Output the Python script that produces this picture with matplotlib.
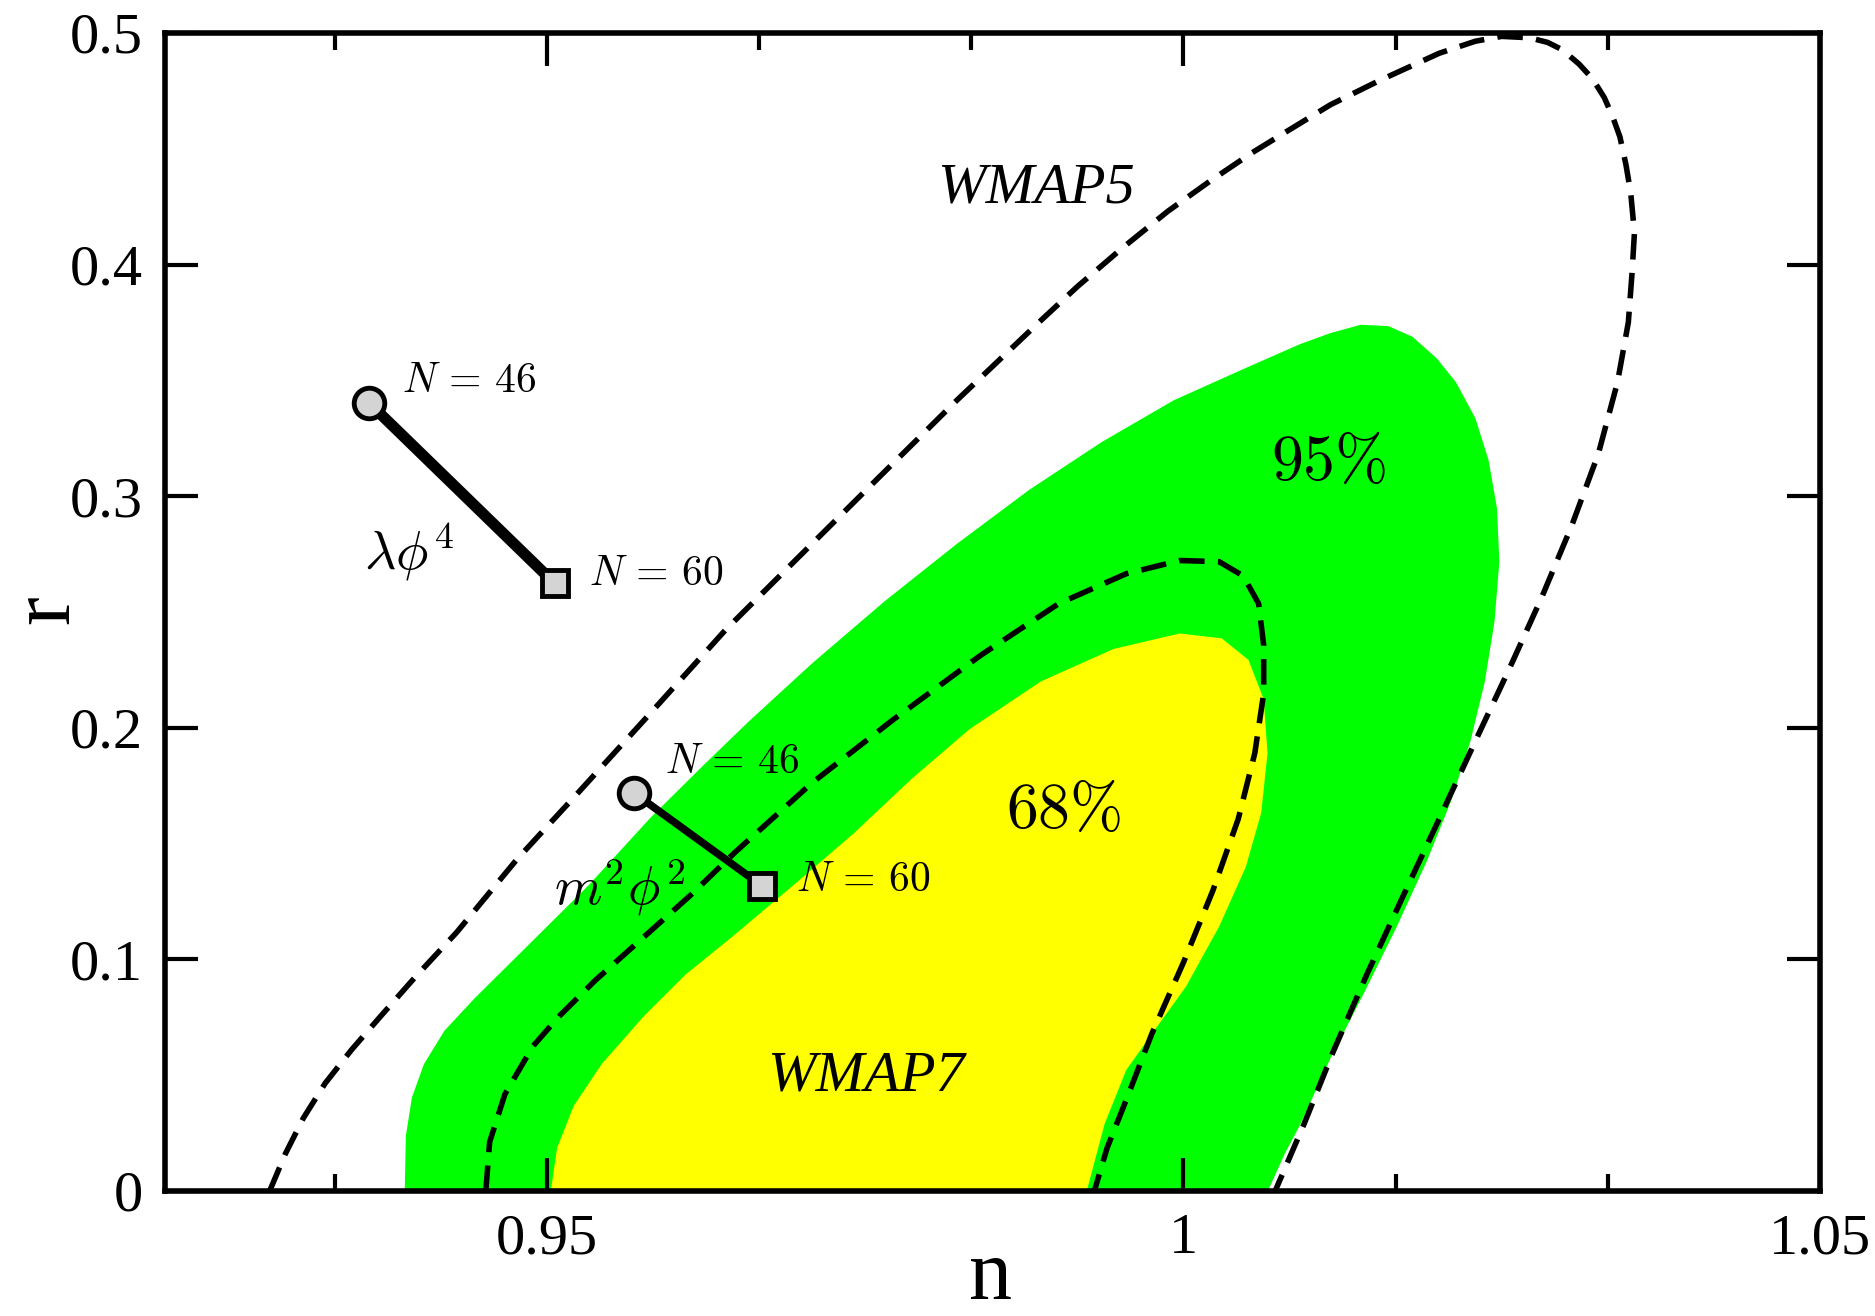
import numpy as np
import matplotlib
matplotlib.use("Agg")
import matplotlib.pyplot as plt

plt.rcParams["font.family"] = ["Liberation Serif", "DejaVu Serif"]
plt.rcParams["mathtext.fontset"] = "cm"

# Contorno WMAP7 95% (relleno verde)
w7_95_n = [0.93883, 0.93892, 0.93939, 0.94034, 0.94195, 0.94432, 0.94858, 0.95331,
           0.95814, 0.96231, 0.96581, 0.97083, 0.97652, 0.98220, 0.98788, 0.99356,
           0.99924, 1.00492, 1.00919, 1.01155, 1.01392, 1.01610, 1.01799, 1.01989,
           1.02140, 1.02292, 1.02396, 1.02462, 1.02481, 1.02443, 1.02367, 1.02254,
           1.02102, 1.01913, 1.01676, 1.01420, 1.01155, 1.00919, 1.00795, 1.00663]
w7_95_r = [0.0, 0.0238, 0.0403, 0.0548, 0.0692, 0.0832, 0.1064, 0.1322,
           0.1612, 0.1839, 0.2025, 0.2278, 0.2546, 0.2794, 0.3027, 0.3233,
           0.3414, 0.3554, 0.3657, 0.3704, 0.3740, 0.3734, 0.3688, 0.3595,
           0.3492, 0.3337, 0.3156, 0.2949, 0.2717, 0.2459, 0.2200, 0.1942,
           0.1684, 0.1426, 0.1142, 0.0857, 0.0573, 0.0289, 0.0160, 0.0]

# Contorno WMAP7 68% (relleno amarillo)
w7_68_n = [0.9503, 0.9508, 0.9521, 0.9543, 0.9576, 0.9609, 0.9645, 0.9694, 0.9741,
           0.9786, 0.9832, 0.9888, 0.9945, 0.9997, 1.0030, 1.0051, 1.0063, 1.0066,
           1.0061, 1.0049, 1.0028, 1.0002, 0.9975, 0.9955, 0.9938, 0.9924]
w7_68_r = [0.0, 0.0186, 0.0367, 0.0548, 0.0754, 0.0935, 0.1095, 0.1322, 0.1544,
           0.1777, 0.1994, 0.2200, 0.2340, 0.2407, 0.2386, 0.2293, 0.2123, 0.1890,
           0.1632, 0.1400, 0.1142, 0.0883, 0.0677, 0.0522, 0.0289, 0.0]

# Contornos WMAP5 (lineas discontinuas)
w5_95_n = [0.92822, 0.92945, 0.93087, 0.93258, 0.93466, 0.93693, 0.93958, 0.94290,
           0.94763, 0.95246, 0.95767, 0.96402, 0.96979, 0.97604, 0.98220, 0.98883,
           0.99167, 0.99517, 0.99877, 1.00208, 1.00540, 1.00833, 1.01155, 1.01534,
           1.02008, 1.02292, 1.02500, 1.02718, 1.02860, 1.02973, 1.03106, 1.03210,
           1.03305, 1.03371, 1.03428, 1.03475, 1.03513, 1.03542, 1.03523, 1.03494,
           1.03409, 1.03258, 1.03049, 1.02813, 1.02557, 1.02292, 1.02008, 1.01723,
           1.01440, 1.01174, 1.00947, 1.00720]
w5_95_r = [0.0, 0.0160, 0.0315, 0.0465, 0.0610, 0.0754, 0.0919, 0.1116,
           0.1431, 0.1720, 0.2035, 0.2422, 0.2738, 0.3079, 0.3414, 0.3760,
           0.3905, 0.4070, 0.4230, 0.4360, 0.4483, 0.4582, 0.4690, 0.4793,
           0.4912, 0.4964, 0.4985, 0.4979, 0.4959, 0.4928, 0.4866, 0.4804,
           0.4721, 0.4638, 0.4551, 0.4432, 0.4308, 0.4137, 0.3962, 0.3750,
           0.3492, 0.3182, 0.2872, 0.2562, 0.2252, 0.1942, 0.1606, 0.1271,
           0.0935, 0.0599, 0.0289, 0.0]

w5_68_n = [0.9452, 0.9455, 0.9467, 0.9489, 0.95095, 0.95379, 0.95758, 0.96136,
           0.96477, 0.9708, 0.9772, 0.9841, 0.9902, 0.9955, 0.9997, 1.0028, 1.0047,
           1.0059, 1.0063, 1.0063, 1.0056, 1.0043, 1.0023, 1.0000, 0.9975, 0.9955,
           0.9940, 0.9930]
w5_68_r = [0.0, 0.0212, 0.0418, 0.0625, 0.0754, 0.0909, 0.1095, 0.1281,
           0.1462, 0.1761, 0.2035, 0.2314, 0.2536, 0.2665, 0.2722, 0.2717, 0.2655,
           0.2536, 0.2355, 0.2149, 0.1890, 0.1606, 0.1296, 0.0987, 0.0677, 0.0393,
           0.0186, 0.0]

# Predicciones de los modelos (N = 46, N = 60)
lam_n = [0.9360, 0.9506]
lam_r = [0.3404, 0.2624]
m2_n = [0.9568, 0.9669]
m2_r = [0.1720, 0.1317]

x_ticks = [0.95, 1.0, 1.05]
x_labels = ["0.95", "1", "1.05"]
x_minor = [0.9333333, 0.9666667, 0.9833333, 1.0166667, 1.0333333]
y_ticks = [0, 0.1, 0.2, 0.3, 0.4, 0.5]
y_labels = ["0", "0.1", "0.2", "0.3", "0.4", "0.5"]

fig = plt.figure(figsize=(18.75, 13.16), dpi=100)
ax = fig.add_axes([0.088, 0.095, 0.8827, 0.880])

ax.fill(w7_95_n, w7_95_r, color="#00ff00", lw=0, zorder=1)
ax.fill(w7_68_n, w7_68_r, color="#ffff00", lw=0, zorder=2)

dash_kw = dict(color="black", lw=4, dashes=(4.6, 2.4), zorder=3)
ax.plot(w5_95_n, w5_95_r, **dash_kw)
ax.plot(w5_68_n, w5_68_r, **dash_kw)

gray = "#d4d4d4"
ax.plot(lam_n, lam_r, color="black", lw=8, zorder=4, solid_capstyle="butt")
ax.plot(m2_n, m2_r, color="black", lw=5.5, zorder=4, solid_capstyle="butt")
for xs, ys in [(lam_n, lam_r), (m2_n, m2_r)]:
    ax.plot(xs[0], ys[0], "o", ms=22, mfc=gray, mec="black", mew=3.5, zorder=5)
    ax.plot(xs[1], ys[1], "s", ms=19, mfc=gray, mec="black", mew=3.5, zorder=5)

# Etiquetas
ax.text(0.9386, 0.3492, r"$N\,=\,46$", fontsize=30, ha="left", va="center", zorder=6)
ax.text(0.9533, 0.2660, r"$N\,=\,60$", fontsize=30, ha="left", va="center", zorder=6)
ax.text(0.9392, 0.2758, r"$\lambda\phi^4$", fontsize=39, ha="center", va="center", zorder=6)
ax.text(0.9593, 0.1849, r"$N\,=\,46$", fontsize=30, ha="left", va="center", zorder=6)
ax.text(0.9696, 0.1338, r"$N\,=\,60$", fontsize=30, ha="left", va="center", zorder=6)
ax.text(0.9557, 0.1312, r"$m^2\phi^2$", fontsize=39, ha="center", va="center", zorder=6)
ax.text(0.9884, 0.4329, "WMAP5", fontsize=42, style="italic", ha="center", va="center")
ax.text(0.9751, 0.0496, "WMAP7", fontsize=42, style="italic", ha="center", va="center", zorder=6)
ax.text(1.0114, 0.3135, r"$95\%$", fontsize=46, ha="center", va="center", zorder=6)
ax.text(0.9906, 0.1632, r"$68\%$", fontsize=46, ha="center", va="center", zorder=6)

ax.set_xlim(0.92, 1.05)
ax.set_ylim(0, 0.5)
ax.set_xticks(x_ticks)
ax.set_xticklabels(x_labels)
ax.set_xticks(x_minor, minor=True)
ax.set_yticks(y_ticks)
ax.set_yticklabels(y_labels)

ax.tick_params(which="both", direction="in", top=True, right=True, width=3, labelsize=42, pad=16)
ax.tick_params(which="major", length=24)
ax.tick_params(which="minor", length=12)
for s in ax.spines.values():
    s.set_linewidth(4)
    s.set_zorder(10)

ax.set_xlabel("n", fontsize=62, va="baseline")
ax.xaxis.set_label_coords(0.4985, -0.093)
ax.set_ylabel("r", fontsize=62, va="baseline")
ax.yaxis.set_label_coords(-0.0586, 0.502)

fig.savefig("out.png", dpi=100)
